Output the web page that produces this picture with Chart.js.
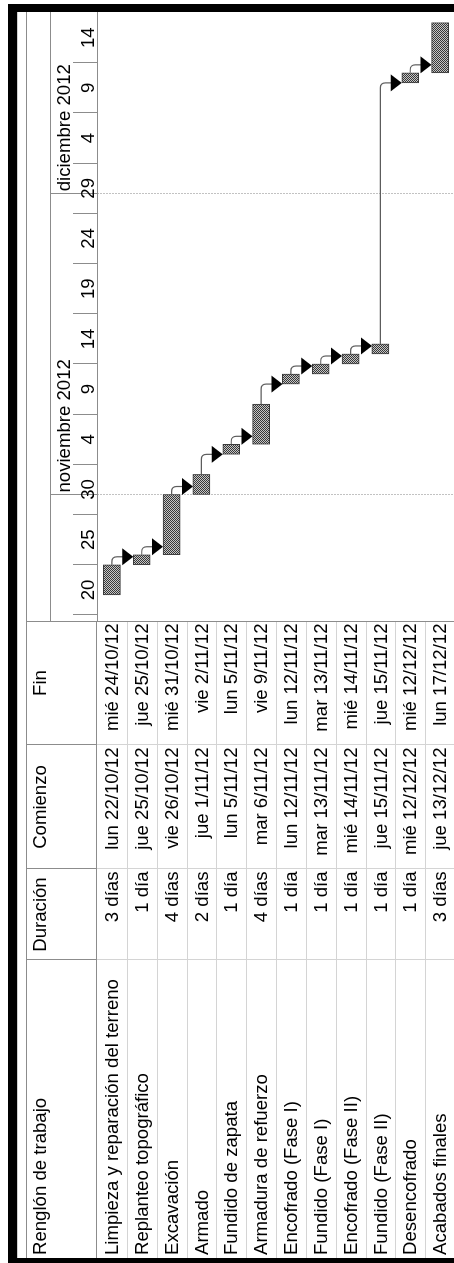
<!DOCTYPE html>
<html lang="es">
<head>
<meta charset="utf-8">
<title>Cronograma de obra</title>
<script src="https://cdn.jsdelivr.net/npm/chart.js@4/dist/chart.umd.min.js"></script>
<style>
  html, body { margin: 0; padding: 0; background: #fff; width: 454px; height: 1263px; overflow: hidden; }
  /* The sheet is laid out landscape and turned a quarter turn to read bottom-to-top */
  #sheet {
    position: absolute; left: 0; top: 0; width: 1263px; height: 454px;
    transform-origin: 0 0; transform: translate(0, 1263px) rotate(-90deg);
    background: #fff; overflow: hidden;
    font-family: "Liberation Sans", Arial, sans-serif; font-size: 18.6px; color: #000;
  }
  .box { position: absolute; }
  .cell { position: absolute; white-space: nowrap; line-height: 20px; }
  #gantt { position: absolute; left: 642px; top: 26px; }
</style>
</head>
<body>
<div id="sheet">
  <canvas id="gantt" width="609" height="429"></canvas>
</div>
<script>
// ---- schedule data ----
const headerLabels = ['Renglón de trabajo', 'Duración', 'Comienzo', 'Fin'];
const taskNames = [
  'Limpieza y reparación del terreno', 'Replanteo topográfico', 'Excavación', 'Armado',
  'Fundido de zapata', 'Armadura de refuerzo', 'Encofrado (Fase I)', 'Fundido (Fase I)',
  'Encofrado (Fase II)', 'Fundido (Fase II)', 'Desencofrado', 'Acabados finales'
];
const durations = ['3 días', '1 día', '4 días', '2 días', '1 día', '4 días',
  '1 día', '1 día', '1 día', '1 día', '1 día', '3 días'];
const startDates = ['lun 22/10/12', 'jue 25/10/12', 'vie 26/10/12', 'jue 1/11/12',
  'lun 5/11/12', 'mar 6/11/12', 'lun 12/11/12', 'mar 13/11/12',
  'mié 14/11/12', 'jue 15/11/12', 'mié 12/12/12', 'jue 13/12/12'];
const endDates = ['mié 24/10/12', 'jue 25/10/12', 'mié 31/10/12', 'vie 2/11/12',
  'lun 5/11/12', 'vie 9/11/12', 'lun 12/11/12', 'mar 13/11/12',
  'mié 14/11/12', 'jue 15/11/12', 'mié 12/12/12', 'lun 17/12/12'];
// finish-to-start links: index of the preceding task
const predecessors = [null, 0, 1, 2, 3, 4, 5, 6, 7, 8, 9, 10];

// timescale
const dayTickDates = ['20/10/12', '25/10/12', '30/10/12', '4/11/12', '9/11/12', '14/11/12',
  '19/11/12', '24/11/12', '29/11/12', '4/12/12', '9/12/12', '14/12/12'];
const dayTickLabels = ['20', '25', '30', '4', '9', '14', '19', '24', '29', '4', '9', '14'];
const monthStartDates = ['1/11/12', '1/12/12'];
const monthLabels = ['noviembre 2012', 'diciembre 2012'];

// ---- date helpers: day numbers counted from 20 Oct 2012 ----
const ORIGIN = Date.UTC(2012, 9, 20);
function dayIndex(text) {
  const p = text.trim().split(' ').pop().split('/');
  return (Date.UTC(2000 + Number(p[2]), Number(p[1]) - 1, Number(p[0])) - ORIGIN) / 864e5;
}
const spans = startDates.map((s, i) => [dayIndex(s), dayIndex(endDates[i]) + 1]);
const dayTickValues = dayTickDates.map(dayIndex);
const monthTickValues = monthStartDates.map(dayIndex);

// ---- sheet frame and task table ----
const sheet = document.getElementById('sheet');
function box(l, t, w, h, color) {
  const d = document.createElement('div');
  d.className = 'box';
  d.style.cssText = `left:${l}px;top:${t}px;width:${w}px;height:${h}px;background:${color};`;
  sheet.appendChild(d);
}
function cell(text, l, w, t, h, align, pad) {
  const d = document.createElement('div');
  d.className = 'cell';
  d.textContent = text;
  d.style.left = l + 'px'; d.style.width = w + 'px';
  d.style.top = t + 'px'; d.style.height = h + 'px';
  d.style.lineHeight = h + 'px';
  d.style.textAlign = align;
  if (align === 'left') d.style.paddingLeft = pad + 'px';
  if (align === 'right') { d.style.paddingRight = pad + 'px'; d.style.width = (w - pad) + 'px'; }
  sheet.appendChild(d);
}

const DARK = '#8c8c8c', LIGHT = '#d4d4d4';
const colEdges = [5, 303, 394, 518, 642];
const TOP = 26, HEAD_BOTTOM = 97, ROW_H = 358 / 12;

// outer frame
box(0, 8, 1259, 9, '#000');
box(0, 8, 5, 446, '#000');
box(1251, 8, 8, 446, '#000');
box(5, 17, 1246, 1, '#cfcfcf');
box(5, TOP, 1246, 1, DARK);
box(641, TOP, 1, 428, DARK);
box(642, 50, 609, 1, DARK);
box(5, HEAD_BOTTOM - 1, 637, 1, DARK);

// table rules
for (let c = 1; c < colEdges.length - 1; c++) {
  box(colEdges[c], TOP, 1, HEAD_BOTTOM - TOP, DARK);
  box(colEdges[c], HEAD_BOTTOM, 1, 454 - HEAD_BOTTOM, LIGHT);
}
for (let r = 1; r <= taskNames.length; r++) {
  box(5, Math.round(HEAD_BOTTOM + r * ROW_H), 636, 1, LIGHT);
}

// header texts
headerLabels.forEach((h, c) => {
  const l = colEdges[c], w = colEdges[c + 1] - l;
  cell(h, l, w, 29.6, 20, c === 0 ? 'left' : 'center', 3);
});
// body texts
const columns = [taskNames, durations, startDates, endDates];
columns.forEach((col, c) => {
  const l = colEdges[c], w = colEdges[c + 1] - l;
  col.forEach((v, r) => {
    cell(v, l, w, HEAD_BOTTOM + r * ROW_H, ROW_H, c === 0 ? 'left' : 'right', c === 0 ? 3 : 2.5);
  });
});

// ---- Gantt chart ----
const FONT = '"Liberation Sans", Arial, sans-serif';
const X_MIN = -0.6, X_MAX = 60.06;
const CHART_W = 609;
const PX_PER_DAY = CHART_W / (X_MAX - X_MIN);
const BAR_THICK = 17;

const canvas = document.getElementById('gantt');
const ctx = canvas.getContext('2d');

// checkered fill used for task bars
const tile = document.createElement('canvas');
tile.width = 2; tile.height = 2;
const tg = tile.getContext('2d');
tg.fillStyle = '#c6c6c6'; tg.fillRect(0, 0, 2, 2);
tg.fillStyle = '#383838'; tg.fillRect(0, 0, 1, 1); tg.fillRect(1, 1, 1, 1);
const hatch = ctx.createPattern(tile, 'repeat');

// finish-to-start connectors with arrowheads
const linkPlugin = {
  id: 'links',
  afterDatasetsDraw(chart) {
    const xs = chart.scales.x, ys = chart.scales.y, c = chart.ctx;
    const half = BAR_THICK / 2, r = 5;
    c.save();
    predecessors.forEach((p, i) => {
      if (p === null) return;
      const x0 = xs.getPixelForValue(spans[p][1]);
      const y0 = ys.getPixelForValue(p);
      const xStart = xs.getPixelForValue(spans[i][0]);
      const top = ys.getPixelForValue(i) - half;
      const ax = Math.max(xStart, x0 + 8);
      c.strokeStyle = '#5c5c5c';
      c.lineWidth = 1.2;
      c.beginPath();
      c.moveTo(x0, y0);
      c.lineTo(ax - r, y0);
      c.quadraticCurveTo(ax, y0, ax, y0 + r);
      c.lineTo(ax, top - 10);
      c.stroke();
      c.fillStyle = '#000';
      c.beginPath();
      c.moveTo(ax - 8.5, top - 11);
      c.lineTo(ax + 8.5, top - 11);
      c.lineTo(ax, top);
      c.closePath();
      c.fill();
    });
    c.restore();
  }
};

new Chart(ctx, {
  type: 'bar',
  data: {
    labels: taskNames,
    datasets: [{
      data: spans,
      backgroundColor: hatch,
      borderColor: '#3a3a3a',
      borderWidth: 1,
      borderSkipped: false,
      barThickness: BAR_THICK,
      xAxisID: 'x',
      yAxisID: 'y'
    }]
  },
  options: {
    indexAxis: 'y',
    responsive: false,
    animation: false,
    devicePixelRatio: 1,
    layout: { padding: { top: 24, left: 0, right: 0, bottom: 0 }, autoPadding: false },
    plugins: { legend: { display: false }, tooltip: { enabled: false } },
    scales: {
      y: { type: 'category', display: false, offset: true, grid: { display: false } },
      x: {
        type: 'linear', position: 'top', weight: 0, min: X_MIN, max: X_MAX,
        afterBuildTicks: s => {
          s.ticks = dayTickValues.concat(monthTickValues).sort((a, b) => a - b).map(v => ({ value: v }));
        },
        afterFit: s => { s.height = 24; },
        grid: { display: true, drawOnChartArea: false, drawTicks: true, tickLength: 24, tickColor: DARK, tickWidth: 1 },
        border: { display: true, color: DARK, width: 1 },
        ticks: {
          autoSkip: false, maxRotation: 0, minRotation: 0,
          padding: -26.7, labelOffset: 2.5 * PX_PER_DAY,
          color: '#000', font: { family: FONT, size: 18.6 },
          callback: v => { const k = dayTickValues.indexOf(v); return k < 0 ? '' : dayTickLabels[k]; }
        }
      },
      xm: {
        type: 'linear', position: 'top', weight: 1, min: X_MIN, max: X_MAX,
        afterBuildTicks: s => { s.ticks = monthTickValues.map(v => ({ value: v })); },
        afterFit: s => { s.height = 23; },
        grid: { display: true, drawOnChartArea: true, drawTicks: true, tickLength: 23,
                color: '#c2c2c2', lineWidth: 1, tickColor: DARK, tickWidth: 1, tickBorderDash: [] },
        border: { display: false, dash: [2, 1] },
        ticks: {
          autoSkip: false, maxRotation: 0, minRotation: 0, align: 'start',
          padding: -26.2, labelOffset: 2,
          color: '#000', font: { family: FONT, size: 18.6 },
          callback: (v, i) => monthLabels[i]
        }
      }
    }
  },
  plugins: [linkPlugin]
});
</script>
</body>
</html>
